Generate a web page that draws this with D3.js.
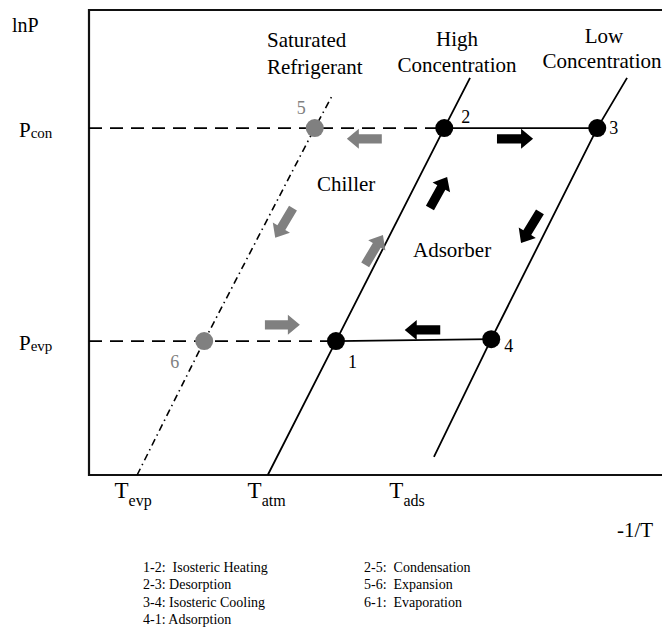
<!DOCTYPE html>
<html>
<head>
<meta charset="utf-8">
<script src="https://cdn.jsdelivr.net/npm/d3@7"></script>
<style>
  body { margin: 0; background: #fff; }
  svg { display: block; }
  text { font-family: "Liberation Serif", "Times New Roman", serif; }
</style>
</head>
<body>
<svg id="chart" width="662" height="642"></svg>
<script>
// Clapeyron diagram of an adsorption chiller cycle.
// Abstract units: x ~ -1/T, y ~ lnP, both on a 0..100 frame.

const pressureLevels = [
  { sub: "con", value: 74.6 },
  { sub: "evp", value: 28.8 }
];

const temperatureLevels = [
  { sub: "evp", value: 7.7 },
  { sub: "atm", value: 31.0 },
  { sub: "ads", value: 55.5 }
];

// state points of the cycle
const cycleIds   = ["1",  "2",  "3",  "4",  "5",  "6"];
const cycleX     = [43.1, 62.0, 88.7, 70.2, 39.4, 20.1];
const cycleY     = [28.8, 74.6, 74.6, 29.2, 74.6, 28.8];
const cycleGroup = ["bed", "bed", "bed", "bed", "chiller", "chiller"];

// isosteres (lines of constant concentration) and the saturation line
const saturationLine = [[8.4, 0], [20.1, 28.8], [39.4, 74.6], [42.4, 81.5]];
const highConcLine   = [[31.2, 0], [43.1, 28.8], [62.0, 74.6], [66.5, 85.4]];
const lowConcLine    = [[60.2, 3.9], [70.2, 29.2], [88.7, 74.6], [93.9, 85.4]];

// process arrows: tail -> tip
const arrowFrom  = [[51.1, 72.3], [35.6, 57.4], [30.7, 32.3], [48.2, 45.2],
                    [71.2, 72.3], [78.7, 56.6], [61.3, 31.2], [59.5, 57.4]];
const arrowTo    = [[45.0, 72.3], [32.5, 51.0], [36.8, 32.3], [51.3, 51.6],
                    [77.5, 72.3], [75.4, 49.9], [55.1, 31.2], [62.5, 64.1]];
const arrowGroup = ["chiller", "chiller", "chiller", "chiller",
                    "bed", "bed", "bed", "bed"];

const legendLeft  = ["1-2:  Isosteric Heating", "2-3: Desorption",
                     "3-4: Isosteric Cooling", "4-1: Adsorption"];
const legendRight = ["2-5:  Condensation", "5-6:  Expansion", "6-1:  Evaporation"];

const svg = d3.select("#chart");
const plot = { left: 89, right: 662, top: 10, bottom: 475 };

const x = d3.scaleLinear().domain([0, 100]).range([plot.left, plot.right]);
const y = d3.scaleLinear().domain([0, 100]).range([plot.bottom, plot.top]);

const grey = "#808080";
const colorOf = g => (g === "chiller" ? grey : "#000");

// frame: left, top and bottom edges
svg.append("path")
  .attr("d", `M${x(100)},${y(100)} H${x(0)} V${y(0)} H${x(100)}`)
  .attr("fill", "none").attr("stroke", "#111").attr("stroke-width", 2.2);

const line = d3.line().x(d => x(d[0])).y(d => y(d[1]));

// pressure guide lines (dashed) from the axis to the high-concentration isostere
const guideEnd = { con: cycleX[1], evp: cycleX[0] };
svg.selectAll("line.guide").data(pressureLevels).join("line")
  .attr("class", "guide")
  .attr("x1", x(0)).attr("x2", d => x(guideEnd[d.sub]))
  .attr("y1", d => y(d.value)).attr("y2", d => y(d.value))
  .attr("stroke", "#000").attr("stroke-width", 1.8)
  .attr("stroke-dasharray", "13,8");

// isosteres
svg.append("path").attr("d", line(saturationLine))
  .attr("fill", "none").attr("stroke", "#000").attr("stroke-width", 1.6)
  .attr("stroke-dasharray", "7,4,1.5,4");
[highConcLine, lowConcLine].forEach(l => {
  svg.append("path").attr("d", line(l))
    .attr("fill", "none").attr("stroke", "#000").attr("stroke-width", 1.8);
});

// desorption (2-3) and adsorption (4-1) lines
svg.append("path").attr("d", line([[cycleX[1], cycleY[1]], [cycleX[2], cycleY[2]]]))
  .attr("fill", "none").attr("stroke", "#000").attr("stroke-width", 1.8);
svg.append("path").attr("d", line([[cycleX[0], cycleY[0]], [cycleX[3], cycleY[3]]]))
  .attr("fill", "none").attr("stroke", "#000").attr("stroke-width", 1.8);

// block arrows
function arrowPath(len) {
  const s = 4.6, h = 10, hl = 12;
  const b = len - hl;
  return `M0,${-s} L${b},${-s} L${b},${-h} L${len},0 L${b},${h} L${b},${s} L0,${s} Z`;
}
svg.selectAll("path.arrow").data(arrowFrom.map((f, i) => ({ f, t: arrowTo[i], g: arrowGroup[i] })))
  .join("path")
  .attr("class", "arrow")
  .attr("d", d => {
    const dx = x(d.t[0]) - x(d.f[0]), dy = y(d.t[1]) - y(d.f[1]);
    return arrowPath(Math.hypot(dx, dy));
  })
  .attr("transform", d => {
    const dx = x(d.t[0]) - x(d.f[0]), dy = y(d.t[1]) - y(d.f[1]);
    const ang = Math.atan2(dy, dx) * 180 / Math.PI;
    return `translate(${x(d.f[0])},${y(d.f[1])}) rotate(${ang})`;
  })
  .attr("fill", d => colorOf(d.g));

// state points
const pts = cycleIds.map((id, i) => ({ id, x: cycleX[i], y: cycleY[i], g: cycleGroup[i] }));
svg.selectAll("circle.pt").data(pts).join("circle")
  .attr("class", "pt")
  .attr("cx", d => x(d.x)).attr("cy", d => y(d.y)).attr("r", 9)
  .attr("fill", d => colorOf(d.g));

// point numbers
const numOffset = { "1": [12, 27], "2": [17, -5], "3": [12, 6], "4": [13, 13], "5": [-18, -14], "6": [-34, 27] };
svg.selectAll("text.num").data(pts).join("text")
  .attr("class", "num")
  .attr("x", d => x(d.x) + numOffset[d.id][0])
  .attr("y", d => y(d.y) + numOffset[d.id][1])
  .attr("font-size", 18)
  .attr("fill", d => (d.g === "chiller" ? grey : "#000"))
  .text(d => d.id);

// axis labels
svg.append("text").attr("x", 12).attr("y", 32).attr("font-size", 20).text("lnP");
svg.selectAll("text.plabel").data(pressureLevels).join("text")
  .attr("class", "plabel")
  .attr("x", 19).attr("y", d => y(d.value) + 9)
  .attr("font-size", 21)
  .call(t => {
    t.append("tspan").text("P");
    t.append("tspan").attr("font-size", 15).attr("dy", 1).text(d => d.sub);
  });

svg.selectAll("text.tlabel").data(temperatureLevels).join("text")
  .attr("class", "tlabel")
  .attr("x", d => x(d.value)).attr("y", 498)
  .attr("text-anchor", "middle")
  .attr("font-size", 23)
  .call(t => {
    t.append("tspan").text("T");
    t.append("tspan").attr("font-size", 16).attr("dy", 8).text(d => d.sub);
  });

svg.append("text").attr("x", 617).attr("y", 537).attr("font-size", 21).text("-1/T");

// region labels
const region = (txt, px, py, anchor) =>
  svg.append("text").attr("x", px).attr("y", py).attr("font-size", 21)
    .attr("text-anchor", anchor || "start").text(txt);
region("Saturated", 267, 47);
region("Refrigerant", 267, 74);
region("High", 457, 46, "middle");
region("Concentration", 457, 72, "middle");
region("Low", 604, 43, "middle");
region("Concentration", 602, 68, "middle");
region("Chiller", 317, 191);
region("Adsorber", 413, 257);

// process legend
svg.selectAll("text.legL").data(legendLeft).join("text")
  .attr("class", "legL")
  .attr("x", 143).attr("y", (d, i) => 572 + i * 17.3)
  .attr("font-size", 14).style("white-space", "pre")
  .text(d => d);
svg.selectAll("text.legR").data(legendRight).join("text")
  .attr("class", "legR")
  .attr("x", 364).attr("y", (d, i) => 572 + i * 17.3)
  .attr("font-size", 14).style("white-space", "pre")
  .text(d => d);
</script>
</body>
</html>
